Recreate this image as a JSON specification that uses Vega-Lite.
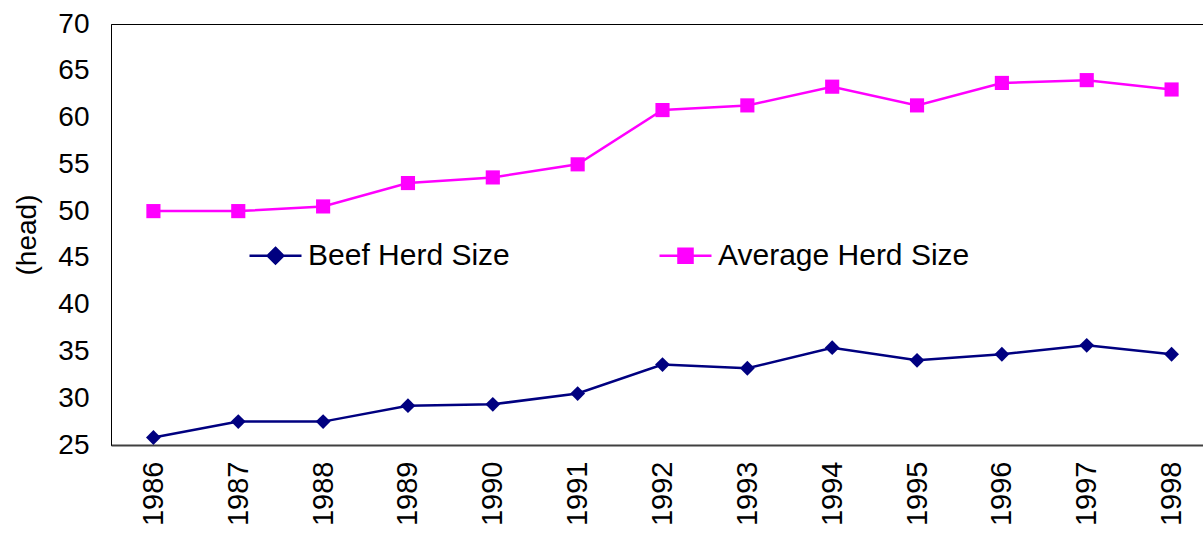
{
  "$schema": "https://vega.github.io/schema/vega-lite/v6.json",
  "width": 1103,
  "height": 421,
  "autosize": {"type": "none"},
  "padding": {"left": 111, "top": 24, "right": 0, "bottom": 88},
  "background": "white",
  "config": {
    "view": {"stroke": "#000000", "strokeWidth": 1},
    "font": "Liberation Sans"
  },
  "data": {
    "values": [
      {"year": "1986", "series": "Beef Herd Size", "value": 25.8},
      {"year": "1987", "series": "Beef Herd Size", "value": 27.5},
      {"year": "1988", "series": "Beef Herd Size", "value": 27.5},
      {"year": "1989", "series": "Beef Herd Size", "value": 29.2},
      {"year": "1990", "series": "Beef Herd Size", "value": 29.35},
      {"year": "1991", "series": "Beef Herd Size", "value": 30.5},
      {"year": "1992", "series": "Beef Herd Size", "value": 33.6},
      {"year": "1993", "series": "Beef Herd Size", "value": 33.2},
      {"year": "1994", "series": "Beef Herd Size", "value": 35.4},
      {"year": "1995", "series": "Beef Herd Size", "value": 34.05},
      {"year": "1996", "series": "Beef Herd Size", "value": 34.7},
      {"year": "1997", "series": "Beef Herd Size", "value": 35.65},
      {"year": "1998", "series": "Beef Herd Size", "value": 34.7},
      {"year": "1986", "series": "Average Herd Size", "value": 50.0},
      {"year": "1987", "series": "Average Herd Size", "value": 50.0},
      {"year": "1988", "series": "Average Herd Size", "value": 50.5},
      {"year": "1989", "series": "Average Herd Size", "value": 53.0},
      {"year": "1990", "series": "Average Herd Size", "value": 53.6},
      {"year": "1991", "series": "Average Herd Size", "value": 55.0},
      {"year": "1992", "series": "Average Herd Size", "value": 60.8},
      {"year": "1993", "series": "Average Herd Size", "value": 61.3},
      {"year": "1994", "series": "Average Herd Size", "value": 63.3},
      {"year": "1995", "series": "Average Herd Size", "value": 61.3},
      {"year": "1996", "series": "Average Herd Size", "value": 63.7},
      {"year": "1997", "series": "Average Herd Size", "value": 64.0},
      {"year": "1998", "series": "Average Herd Size", "value": 63.0}
    ]
  },
  "encoding": {
    "x": {
      "field": "year",
      "type": "ordinal",
      "scale": {"type": "point", "padding": 0.5},
      "axis": {
        "title": null,
        "labelAngle": -90,
        "labelFontSize": 29,
        "labelColor": "#000000",
        "labelPadding": 16,
        "ticks": false,
        "domainColor": "#404040",
        "domainWidth": 2,
        "grid": false
      }
    },
    "y": {
      "field": "value",
      "type": "quantitative",
      "scale": {"domain": [25, 70], "nice": false, "zero": false},
      "axis": {
        "title": "(head)",
        "titleFontSize": 28,
        "titleFontWeight": "normal",
        "titleColor": "#000000",
        "titlePadding": 16,
        "values": [25, 30, 35, 40, 45, 50, 55, 60, 65, 70],
        "labelFontSize": 28,
        "labelColor": "#000000",
        "labelPadding": 22,
        "ticks": false,
        "domainColor": "#000000",
        "domainWidth": 1,
        "grid": false
      }
    },
    "color": {
      "field": "series",
      "type": "nominal",
      "scale": {
        "domain": ["Beef Herd Size", "Average Herd Size"],
        "range": ["#000080", "#FF00FF"]
      },
      "legend": {
        "title": null,
        "orient": "none",
        "legendX": 137,
        "legendY": 204,
        "direction": "horizontal",
        "padding": 0,
        "labelFontSize": 30,
        "labelColor": "#000000",
        "labelLimit": 500,
        "labelOffset": 5,
        "columnPadding": 144,
        "symbolSize": 2704,
        "symbolStrokeWidth": 2.5,
        "symbolOpacity": 1
      }
    }
  },
  "layer": [
    {
      "mark": {"type": "line", "strokeWidth": 2.5}
    },
    {
      "transform": [{"filter": "datum.series === 'Beef Herd Size'"}],
      "mark": {"type": "point", "filled": true, "opacity": 1, "shape": "diamond", "size": 220}
    },
    {
      "transform": [{"filter": "datum.series === 'Average Herd Size'"}],
      "mark": {"type": "point", "filled": true, "opacity": 1, "shape": "square", "size": 200}
    },
    {
      "transform": [{"filter": "datum.value < 0"}],
      "mark": {"type": "point", "filled": true, "opacity": 1, "strokeWidth": 2.5},
      "encoding": {
        "shape": {
          "field": "series",
          "type": "nominal",
          "scale": {
            "domain": ["Beef Herd Size", "Average Herd Size"],
            "range": ["M-1,0H1M0,-0.3L0.3,0L0,0.3L-0.3,0Z", "M-1,0H1M-0.27,-0.27H0.27V0.27H-0.27Z"]
          },
          "legend": null
        },
        "stroke": {
          "field": "series",
          "type": "nominal",
          "scale": {
            "domain": ["Beef Herd Size", "Average Herd Size"],
            "range": ["#000080", "#FF00FF"]
          },
          "legend": null
        }
      }
    }
  ]
}
